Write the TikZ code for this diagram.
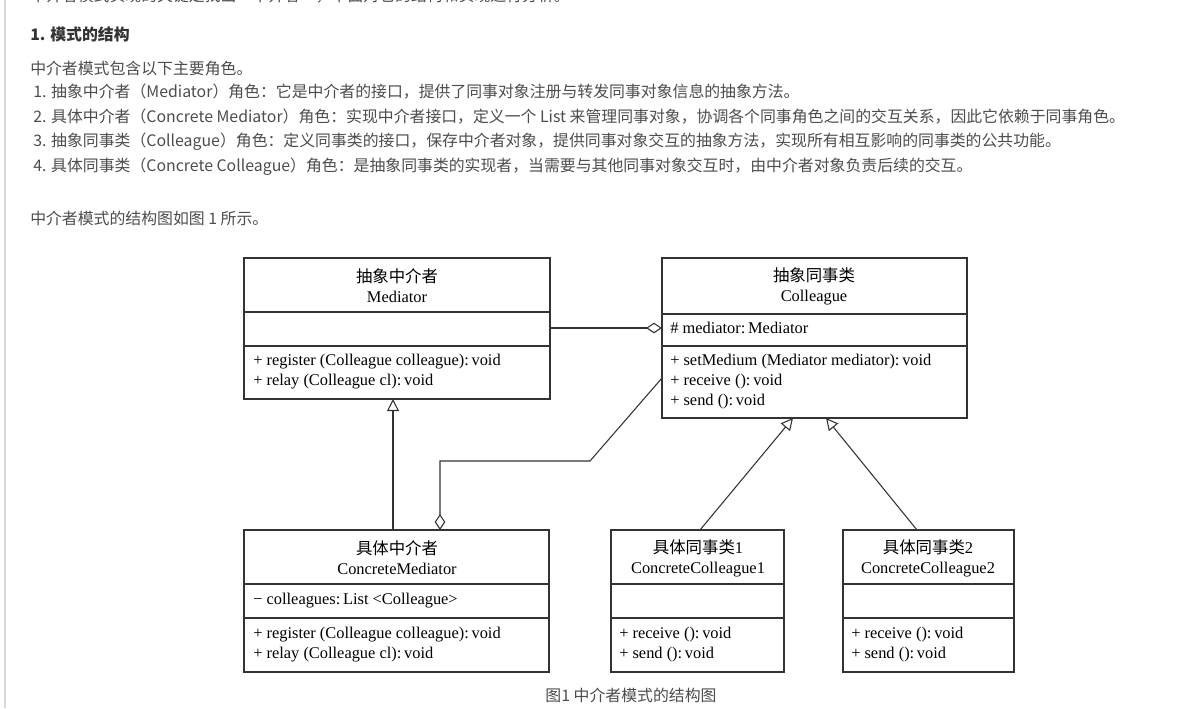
\documentclass[tikz,border=0pt]{standalone}
\usepackage{fontspec}
\setmainfont{Liberation Serif}
\newfontfamily\cjk{Noto Sans CJK SC}
\usetikzlibrary{arrows.meta}
\definecolor{txt}{HTML}{4D4D4D}
\begin{document}
\begin{tikzpicture}[x=0.75pt,y=-0.75pt,
  pg/.style={anchor=west,inner sep=0pt,font=\cjk\fontsize{11.9}{13}\selectfont,text=txt},
  bx/.style={draw=black!80,line width=0.8pt},
  ln/.style={anchor=west,inner sep=0pt,font=\fontsize{12.3}{13}\selectfont},
  tt/.style={align=center,inner sep=0pt,font=\fontsize{12.3}{15}\selectfont},
  con/.style={draw=black!80,line width=0.8pt},
  gen/.style={-{Triangle[open,length=9pt,width=9pt]}},
  agg/.style={-{Diamond[open,length=12pt,width=8pt]}}]
\useasboundingbox (0,0) rectangle (1195,708);
\fill[white] (0,0) rectangle (1195,708);
\draw[black!15,line width=1pt] (5,0) -- (5,708);
\node[pg] (t0) at (30,-4) {中介者模式实现的关键是找出“中介者”，下面对它的结构和实现进行分析。};
\node[pg,font=\cjk\bfseries\fontsize{11.9}{13}\selectfont,text=black!80] (t1) at (30,34) {1. 模式的结构};
\node[pg] (t2) at (30,68) {中介者模式包含以下主要角色。};
\node[pg] (t3) at (33,92) {1. 抽象中介者（Mediator）角色：它是中介者的接口，提供了同事对象注册与转发同事对象信息的抽象方法。};
\node[pg] (t4) at (33,117) {2. 具体中介者（Concrete Mediator）角色：实现中介者接口，定义一个 List 来管理同事对象，协调各个同事角色之间的交互关系，因此它依赖于同事角色。};
\node[pg] (t5) at (33,142) {3. 抽象同事类（Colleague）角色：定义同事类的接口，保存中介者对象，提供同事对象交互的抽象方法，实现所有相互影响的同事类的公共功能。};
\node[pg] (t6) at (33,167) {4. 具体同事类（Concrete Colleague）角色：是抽象同事类的实现者，当需要与其他同事对象交互时，由中介者对象负责后续的交互。};
\node[pg] (t7) at (30,218) {中介者模式的结构图如图 1 所示。};
% boxes
\draw[bx] (244,258) rectangle (550,399) (244,312)--(550,312) (244,346)--(550,346);
\node[tt] (m) at (397,286) {{\cjk 抽象中介者}\\Mediator};
\node[ln] (m1) at (253,362) {+ register (Colleague colleague):\,void};
\node[ln] (m2) at (253,382) {+ relay (Colleague cl):\,void};
\draw[bx] (662,258) rectangle (967,418) (662,314)--(967,314) (662,346)--(967,346);
\node[tt] (c) at (814,286) {{\cjk 抽象同事类}\\Colleague};
\node[ln] (c0) at (670,328) {\# mediator:\,Mediator};
\node[ln] (c1) at (670,362) {+ setMedium (Mediator mediator):\,void};
\node[ln] (c2) at (670,382) {+ receive ():\,void};
\node[ln] (c3) at (670,402) {+ send ():\,void};
\draw[bx] (244,530) rectangle (549,672) (244,584)--(549,584) (244,618)--(549,618);
\node[tt] (cm) at (397,558) {{\cjk 具体中介者}\\ConcreteMediator};
\node[ln] (cm0) at (253,601) {− colleagues:\,List <Colleague>};
\node[ln] (cm1) at (253,635) {+ register (Colleague colleague):\,void};
\node[ln] (cm2) at (253,655) {+ relay (Colleague cl):\,void};
\draw[bx] (611,530) rectangle (784,672) (611,584)--(784,584) (611,618)--(784,618);
\node[tt] (k1) at (698,558) {{\cjk 具体同事类}1\\ConcreteColleague1};
\node[ln] (k11) at (619,635) {+ receive ():\,void};
\node[ln] (k12) at (619,655) {+ send ():\,void};
\draw[bx] (843,530) rectangle (1014,672) (843,584)--(1014,584) (843,618)--(1014,618);
\node[tt] (k2) at (928,558) {{\cjk 具体同事类}2\\ConcreteColleague2};
\node[ln] (k21) at (851,635) {+ receive ():\,void};
\node[ln] (k22) at (851,655) {+ send ():\,void};
% connectors
\coordinate (a1) at (550,328); \coordinate (a2) at (662,328);
\draw[con,agg] (a1) -- (a2);
\coordinate (g1) at (393,530); \coordinate (g2) at (393,399);
\draw[con,gen] (g1) -- (g2);
\coordinate (d1) at (662,378); \coordinate (d2) at (590,461); \coordinate (d3) at (440,461); \coordinate (d4) at (440,530);
\draw[con,agg] (d1) -- (d2) -- (d3) -- (d4);
\coordinate (e1) at (700,530); \coordinate (e2) at (793,418);
\draw[con,gen] (e1) -- (e2);
\coordinate (f1) at (917,530); \coordinate (f2) at (826,418);
\draw[con,gen] (f1) -- (f2);
\node[pg,anchor=center] (cap) at (631,695) {图1 中介者模式的结构图};
\end{tikzpicture}
\end{document}
